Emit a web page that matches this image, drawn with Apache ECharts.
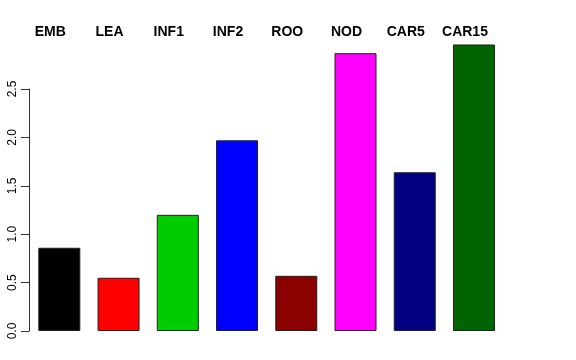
<!DOCTYPE html>
<html>
<head>
<meta charset="utf-8">
<script src="https://cdn.jsdelivr.net/npm/echarts@6/dist/echarts.min.js"></script>
<style>html,body{margin:0;padding:0;background:#fff}#c{width:576px;height:360px}</style>
</head>
<body>
<div id="c"></div>
<script>
var categories = ['EMB','LEA','INF1','INF2','ROO','NOD','CAR5','CAR15'];
var values = [0.86, 0.55, 1.20, 1.97, 0.57, 2.87, 1.64, 2.96];
var colors = ['#000000','#FF0000','#00CD00','#0000FF','#8B0000','#FF00FF','#000080','#006400'];
var yTicks = [0, 0.5, 1.0, 1.5, 2.0, 2.5];

var chart = echarts.init(document.getElementById('c'), null, {renderer:'canvas'});
var font = 'Liberation Sans, Arial, Helvetica, sans-serif';
var option = {
  animation: false,
  backgroundColor: '#ffffff',
  grid: [
    {left: 29.7, width: 473.9, top: 40.6, bottom: 29, containLabel: false},
    {left: 29, width: 473.9, top: 89, bottom: 29, containLabel: false},
    {left: 20.7, width: 473.9, top: 41, bottom: 29, containLabel: false}
  ],
  xAxis: [
    {type:'category', gridIndex:0, data:categories, show:false},
    {type:'value', gridIndex:1, show:false},
    {type:'category', gridIndex:2, data:categories, position:'top',
      axisLine:{show:false}, axisTick:{show:false}, splitLine:{show:false},
      axisLabel:{show:true, interval:0, margin:2, color:'#000', fontWeight:'bold', fontSize:14, fontFamily:font}}
  ],
  yAxis: [
    {type:'value', gridIndex:0, min:0, max:3, show:false},
    {type:'value', gridIndex:1, min:yTicks[0], max:yTicks[yTicks.length-1], interval:0.5,
      axisLine:{show:true, lineStyle:{color:'#333', width:1}},
      axisTick:{show:true, length:8, inside:false, lineStyle:{color:'#333', width:1}},
      splitLine:{show:false},
      axisLabel:{show:true, rotate:90, margin:10, color:'#000', fontSize:12, fontFamily:font,
        formatter:function(v){return v.toFixed(1);}}},
    {type:'value', gridIndex:2, show:false}
  ],
  series: [{
    type:'bar', xAxisIndex:0, yAxisIndex:0, barWidth:42,
    data: values.map(function(v,i){return {value:v, itemStyle:{color:colors[i]}};}),
    itemStyle:{borderColor:'#222', borderWidth:1}
  }]
};
chart.setOption(option);
</script>
</body>
</html>
